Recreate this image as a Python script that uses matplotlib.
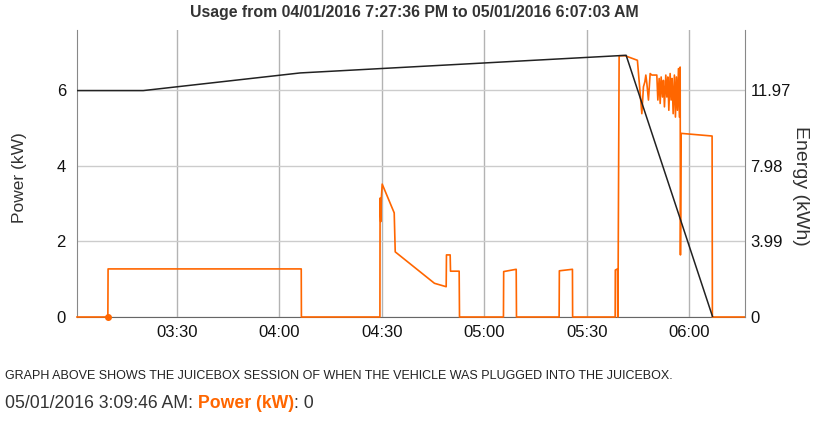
import matplotlib
matplotlib.use("Agg")
import matplotlib.pyplot as plt
import matplotlib.dates as mdates
import pandas as pd

plt.rcParams['font.family'] = ['Liberation Sans', 'DejaVu Sans']

DAY = "2016-05-01 "

# Power (kW) series
power_times = [
    "03:00:44", "03:09:46", "03:09:50", "04:06:23", "04:06:26", "04:29:25",
    "04:29:28", "04:29:40", "04:29:50", "04:30:05", "04:33:36", "04:33:54",
    "04:45:23", "04:48:49", "04:48:54", "04:49:59", "04:50:05", "04:52:37",
    "04:52:43", "05:05:35", "05:05:39", "05:09:19", "05:09:24", "05:21:53",
    "05:21:57", "05:25:47", "05:25:50", "05:38:17", "05:38:20", "05:38:58",
    "05:39:01", "05:39:06", "05:39:27", "05:41:12", "05:44:48", "05:46:06",
    "05:46:34", "05:46:59", "05:47:16", "05:47:34", "05:48:02", "05:48:32",
    "05:49:02", "05:50:29", "05:50:47", "05:51:10", "05:51:28", "05:51:45",
    "05:52:08", "05:52:25", "05:52:43", "05:53:07", "05:53:25", "05:53:43",
    "05:54:00", "05:54:23", "05:54:40", "05:54:58", "05:55:16", "05:55:38",
    "05:55:56", "05:56:13", "05:56:31", "05:56:49", "05:57:06", "05:57:19",
    "05:57:24", "05:57:36", "06:06:40", "06:06:45", "06:16:18",
]
power_kw = [
    0, 0, 1.27, 1.27, 0, 0,
    3.14, 2.52, 3.14, 3.51, 2.75, 1.72,
    0.89, 0.80, 1.64, 1.64, 1.21, 1.21,
    0, 0, 1.20, 1.26, 0, 0,
    1.22, 1.26, 0, 0, 1.24, 1.27,
    0, 0, 6.90, 6.90, 6.78, 5.37,
    6.08, 6.21, 6.39, 6.17, 5.73, 6.43,
    6.39, 6.39, 5.73, 6.30, 5.64, 6.34,
    5.81, 6.25, 5.55, 6.39, 5.81, 6.34,
    5.46, 6.43, 5.73, 6.30, 5.37, 6.39,
    5.28, 6.34, 5.46, 6.56, 5.28, 6.60,
    1.64, 4.85, 4.78, 0, 0,
]

# Energy (kWh) series
energy_times = ["03:00:44", "03:20:08", "04:06:05", "05:41:30", "06:06:50"]
energy_kwh = [11.93, 11.93, 12.86, 13.79, 0]

x_ticks = ["03:30", "04:00", "04:30", "05:00", "05:30", "06:00"]
power_ticks = [0, 2, 4, 6]
energy_ticks = [0, 3.99, 7.98, 11.97]

marker_time = "03:09:46"
x_range = ["03:00:44", "06:16:18"]
power_max = 7.58
energy_ratio = 11.97 / 6

title = "Usage from 04/01/2016 7:27:36 PM to 05/01/2016 6:07:03 AM"
note = "GRAPH ABOVE SHOWS THE JUICEBOX SESSION OF WHEN THE VEHICLE WAS PLUGGED INTO THE JUICEBOX."

def ts(lst):
    return pd.to_datetime([DAY + t for t in lst])

ORANGE = "#ff6600"

fig = plt.figure(figsize=(8.32, 4.25), dpi=100)
ax = fig.add_axes([77 / 832, 1 - 317 / 425, (745 - 77) / 832, (317 - 30) / 425])
ax2 = ax.twinx()

ax.set_xlim(ts(x_range)[0], ts(x_range)[1])
ax.set_ylim(0, power_max)
ax2.set_ylim(0, power_max * energy_ratio)

ax.set_axisbelow(True)
ax.grid(axis='y', color='#cccccc', lw=1)
ax.grid(axis='x', color='#b3b3b3', lw=1)

ax.plot(ts(power_times), power_kw, color=ORANGE, lw=1.2, zorder=4, clip_on=False)
ax.plot(ts([marker_time]), [0], 'o', color=ORANGE, ms=4, zorder=5, clip_on=False)
ax2.plot(ts(energy_times), energy_kwh, color='#222222', lw=1.1, zorder=3)

ax.set_xticks(ts(x_ticks))
ax.xaxis.set_major_formatter(mdates.DateFormatter('%H:%M'))
ax.set_yticks(power_ticks)
ax2.set_yticks(energy_ticks)
ax2.set_yticklabels([f"{v:g}" if v == 0 else f"{v:.2f}" for v in energy_ticks])

ax.tick_params(axis='both', length=0, labelsize=12, colors='#111111')
ax.tick_params(axis='y', pad=8)
ax.tick_params(axis='x', pad=6)
ax2.tick_params(axis='y', length=0, labelsize=12, colors='#111111', pad=4)

for s in ['top', 'right']:
    ax.spines[s].set_visible(False)
for s in ['top', 'left', 'bottom']:
    ax2.spines[s].set_visible(False)
ax.spines['left'].set_color('#888888')
ax.spines['bottom'].set_color('#666666')
ax2.spines['right'].set_color('#888888')

fig.text(20 / 832, 1 - 178 / 425, "Power (kW)", rotation=90, ha='center', va='center',
         fontsize=12.5, color='#333333')
fig.text(801 / 832, 1 - 186 / 425, "Energy (kWh)", rotation=270, ha='center', va='center',
         fontsize=14, color='#333333')

fig.text(414 / 832, 1 - 13 / 425, title, ha='center', va='center', fontsize=11.4,
         fontweight='bold', color='#333333')

fig.text(5 / 832, 1 - 376 / 425, note, ha='left', va='center', fontsize=9, color='#222222')

t1 = fig.text(5 / 832, 1 - 412 / 425, "05/01/2016 3:09:46 AM: ", ha='left', va='bottom',
              fontsize=12.7, color='#333333')
t2 = fig.text(0, 0, "Power (kW)", fontsize=12.7, fontweight='bold', color=ORANGE)
t3 = fig.text(0, 0, ": 0", fontsize=12.7, color='#333333')

fig.canvas.draw()
r = fig.canvas.get_renderer()
bb1 = t1.get_window_extent(r)
t2.set_position((bb1.x1 / fig.bbox.width, bb1.y0 / fig.bbox.height))
t2.set_va('bottom')
bb2 = t2.get_window_extent(r)
t3.set_position((bb2.x1 / fig.bbox.width, bb1.y0 / fig.bbox.height))
t3.set_va('bottom')

fig.savefig("out.png", dpi=100)
